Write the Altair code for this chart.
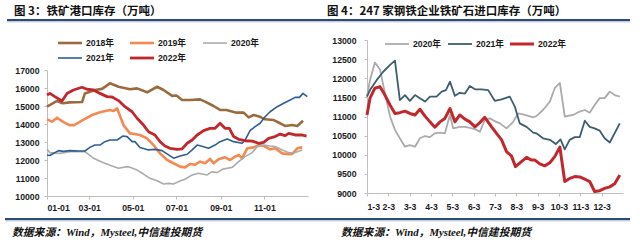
import altair as alt
import pandas as pd

# ---------------- data: left panel (港口库存, 万吨), x = day of year ----------------
L_SERIES = ["2018年", "2019年", "2020年", "2021年", "2022年"]

l18_day = [0, 14, 22, 32, 49, 53, 67, 77, 88, 100, 116, 126, 140, 154, 163, 175, 181, 189, 200, 214,
           221, 233, 242, 251, 265, 275, 282, 289, 298, 305, 317, 326, 333, 343, 350, 358]
l18_val = [14960, 15280, 15150, 15200, 15220, 15700, 15890, 15950, 16260, 16070, 15930, 15980, 15760, 16070, 15890, 15560, 15580, 15330, 15330, 15370,
           15240, 15000, 14780, 14780, 14630, 14630, 14370, 14500, 14400, 14260, 14220, 14040, 13890, 13940, 13890, 14180]

l19_day = [0, 7, 14, 22, 31, 38, 50, 63, 74, 88, 93, 98, 107, 116, 123, 130, 140, 149, 158, 168,
           177, 186, 193, 200, 207, 214, 221, 228, 233, 240, 249, 256, 263, 268, 273, 280, 289, 296, 303, 312,
           319, 329, 338, 343, 350, 357]
l19_val = [14260, 14130, 14350, 14130, 13940, 13940, 14220, 14500, 14650, 14780, 14720, 14870, 13940, 13480, 13440, 13390, 13200, 12830, 12370, 12000,
           11820, 11630, 11590, 11780, 11740, 11910, 11820, 12060, 11820, 12040, 12150, 12000, 12190, 12280, 12100, 12650, 12700, 12830, 12780, 12590,
           12650, 12370, 12320, 12340, 12650, 12700]

l20_day = [0, 4, 18, 32, 46, 53, 65, 79, 91, 100, 112, 116, 126, 135, 144, 154, 163, 170, 177, 184,
           193, 203, 212, 224, 231, 238, 245, 252, 259, 268, 277, 287, 294, 303, 312, 319, 329, 338, 345, 357]
l20_val = [12590, 12410, 12370, 12460, 12460, 12460, 12100, 11850, 11670, 11540, 11630, 11600, 11440, 11220, 10980, 10850, 10670, 10700, 10670, 10800,
           10930, 11170, 11260, 11170, 11350, 11300, 11480, 11540, 11590, 11910, 12190, 12410, 12740, 12830, 12780, 12750, 12560, 12410, 12390, 12560]

l21_day = [0, 4, 16, 23, 32, 46, 53, 60, 67, 74, 81, 88, 98, 106, 112, 119, 123, 130, 142, 151,
           161, 170, 177, 186, 196, 203, 210, 219, 226, 235, 242, 252, 261, 273, 277, 284, 291, 298, 305, 312,
           322, 331, 340, 347, 353, 358, 364]
l21_val = [12280, 12250, 12520, 12480, 12520, 12500, 12500, 12700, 12830, 12830, 13020, 13110, 13110, 13330, 13300, 13020, 13020, 12700, 12560, 12590,
           12520, 12280, 12100, 12220, 12320, 12560, 12830, 12740, 12650, 12830, 13020, 13170, 13020, 12930, 13110, 13630, 13850, 14040, 14400, 14680,
           14960, 15150, 15330, 15480, 15480, 15700, 15520]

l22_day = [0, 4, 11, 21, 28, 37, 49, 56, 65, 74, 84, 91, 100, 109, 119, 126, 135, 142, 151, 158,
           165, 172, 182, 189, 196, 203, 210, 219, 228, 235, 242, 249, 255, 261, 268, 277, 287, 296, 303, 310,
           319, 326, 333, 338, 347, 356, 363]
l22_val = [15610, 15700, 15520, 15280, 15700, 15890, 16040, 15930, 15890, 15700, 15520, 15500, 15300, 14960, 14680, 14320, 13940, 13570, 13390, 13020,
           12780, 12650, 12590, 12620, 12930, 13110, 13390, 13630, 13760, 13760, 14040, 13760, 13760, 13300, 13150, 13070, 13050, 12930, 12980, 13200,
           13300, 13440, 13350, 13480, 13390, 13390, 13330]

L_TICK_DAYS = [0, 59, 120, 181, 243, 304]          # 01-01, 03-01, ... 11-01
L_Y_TICKS = [10000, 11000, 12000, 13000, 14000, 15000, 16000, 17000]

# ---------------- data: right panel (247家钢厂进口矿库存), x = month index (0 = 1-3) ----------------
R_SERIES = ["2020年", "2021年", "2022年"]

r20_m = [0, 0.14, 0.37, 0.61, 0.84, 1.08, 1.31, 1.54, 1.78, 2.01, 2.25, 2.48, 2.72, 2.95, 3.18, 3.42, 3.65, 3.89, 4.04, 4.35,
         4.59, 4.82, 5.06, 5.29, 5.52, 5.76, 5.99, 6.23, 6.54, 6.85, 7.08, 7.40, 7.79, 7.94, 8.25, 8.57, 8.80, 9.04, 9.27, 9.66,
         9.97, 10.21, 10.44, 10.67, 10.91, 11.14, 11.38, 11.61, 11.85]
r20_val = [11520, 11950, 12410, 12230, 11610, 11000, 10650, 10430, 10210, 10250, 10210, 10430, 10490, 10460, 10560, 10580, 10560, 11040, 10690, 10730,
           10730, 10700, 10670, 10600, 10910, 10950, 10880, 10820, 10690, 10860, 11080, 11040, 10980, 11010, 11170, 11390, 11740, 11880, 11000, 11040,
           11130, 11170, 11100, 11300, 11480, 11480, 11650, 11560, 11520]

r21_m = [0, 0.14, 0.45, 0.76, 1.08, 1.31, 1.54, 1.78, 2.01, 2.25, 2.48, 2.72, 2.95, 3.26, 3.50, 3.70, 3.89, 4.12, 4.35, 4.59,
         4.82, 5.06, 5.37, 5.68, 5.99, 6.31, 6.69, 6.93, 7.16, 7.48, 7.79, 7.94, 8.25, 8.57, 8.85, 9.07, 9.27, 9.50, 9.74, 9.97,
         10.21, 10.44, 10.67, 10.91, 11.14, 11.38, 11.85]
r21_val = [11520, 11690, 11950, 12170, 12350, 12460, 11430, 11560, 11410, 11560, 11480, 11390, 11520, 11520, 11650, 11690, 11910, 11540, 11620, 11600,
           11800, 11710, 11710, 11690, 11410, 11450, 11520, 11260, 10820, 10730, 10580, 10560, 10430, 10390, 10280, 10400, 10140, 10390, 10460, 10460,
           10890, 10730, 10690, 10630, 10430, 10320, 10820]

r22_m = [0, 0.14, 0.37, 0.61, 0.84, 1.08, 1.31, 1.54, 1.78, 2.01, 2.25, 2.48, 2.72, 2.95, 3.18, 3.42, 3.65, 3.89, 4.12, 4.35,
         4.59, 4.82, 5.06, 5.29, 5.52, 5.84, 6.07, 6.31, 6.54, 6.77, 6.96, 7.24, 7.48, 7.71, 7.87, 8.10, 8.33, 8.57, 8.80, 9.04,
         9.27, 9.50, 9.74, 9.97, 10.21, 10.44, 10.67, 10.91, 11.14, 11.38, 11.61, 11.85]
r22_val = [11040, 11480, 11740, 11780, 11560, 11300, 11080, 11100, 11140, 11080, 11040, 11190, 11010, 10860, 10720, 10860, 10950, 11210, 10860, 11040,
           10930, 10860, 10730, 10840, 10980, 10730, 10560, 10390, 10080, 9970, 9690, 9820, 9930, 9860, 9860, 9760, 9710, 9790, 9950, 10200,
           9300, 9380, 9430, 9420, 9360, 9300, 9040, 9060, 9120, 9160, 9240, 9470]

R_TICK_M = list(range(12))                         # 1-3 ... 12-3
R_Y_TICKS = [9000, 9500, 10000, 10500, 11000, 11500, 12000, 12500, 13000]

TITLE_L = "图 3：铁矿港口库存（万吨）"
TITLE_R = "图 4：247 家钢铁企业铁矿石进口库存（万吨）"
SOURCE = "数据来源：Wind，Mysteel,中信建投期货"

# ---------------- styles / layout ----------------
L_COLORS = ["#9A6B3F", "#F28A52", "#ABABAB", "#2F5F90", "#C1272D"]
L_WIDTHS = [2.6, 2.6, 1.6, 1.6, 2.8]
R_COLORS = ["#ABABAB", "#3D5E70", "#C1272D"]
R_WIDTHS = [1.8, 1.8, 3.0]
NUM_FONT = "Liberation Sans, Arial, Noto Sans CJK SC, sans-serif"
CJK_FONT = "Noto Sans CJK SC, sans-serif"
SRC_FONT = "Liberation Serif, Noto Sans CJK SC, serif"
NAVY = "#2B4B78"

left_df = pd.concat([
    pd.DataFrame({"day": d, "value": v, "series": s})
    for d, v, s in zip([l18_day, l19_day, l20_day, l21_day, l22_day],
                       [l18_val, l19_val, l20_val, l21_val, l22_val], L_SERIES)
], ignore_index=True)
right_df = pd.concat([
    pd.DataFrame({"m": d, "value": v, "series": s})
    for d, v, s in zip([r20_m, r21_m, r22_m], [r20_val, r21_val, r22_val], R_SERIES)
], ignore_index=True)

axis_style = dict(domainColor="#BFBFBF", domainWidth=1, tickColor="#BFBFBF", tickSize=3,
                  labelFont=NUM_FONT, labelFontSize=8.7, labelFontWeight="bold", labelColor="#1A1A1A",
                  grid=False, title=None)

left_lines = alt.Chart(left_df).mark_line(strokeJoin="round").encode(
    x=alt.X("day:Q",
            scale=alt.Scale(domain=[0, 365], range=[47, 308], nice=False, zero=False),
            axis=alt.Axis(orient="bottom", offset=-51, values=L_TICK_DAYS, labelPadding=4,
                          labelExpr="timeFormat(datetime(2022, 0, 1 + datum.value), '%m-%d')",
                          **axis_style)),
    y=alt.Y("value:Q",
            scale=alt.Scale(domain=[10000, 17000], range=[196, 70], nice=False, zero=False),
            axis=alt.Axis(orient="left", offset=-47, values=L_Y_TICKS, format="d", labelPadding=5,
                          **axis_style)),
    color=alt.Color("series:N", scale=alt.Scale(domain=L_SERIES, range=L_COLORS), legend=None),
    strokeWidth=alt.StrokeWidth("series:N",
                                scale=alt.Scale(type="ordinal", domain=L_SERIES, range=L_WIDTHS),
                                legend=None),
)

right_lines = alt.Chart(right_df).mark_line(strokeJoin="round").encode(
    x=alt.X("m:Q",
            scale=alt.Scale(domain=[0, 12], range=[367, 623], nice=False, zero=False),
            axis=alt.Axis(orient="bottom", offset=-54, values=R_TICK_M, labelPadding=6,
                          labelExpr="(datum.value + 1) + '-3'", **axis_style)),
    y=alt.Y("value:Q",
            scale=alt.Scale(domain=[9000, 13000], range=[193, 40], nice=False, zero=False),
            axis=alt.Axis(orient="left", offset=-367, values=R_Y_TICKS, format="d", labelPadding=8,
                          **axis_style)),
    color=alt.Color("series:N", scale=alt.Scale(domain=R_SERIES, range=R_COLORS), legend=None),
    strokeWidth=alt.StrokeWidth("series:N",
                                scale=alt.Scale(type="ordinal", domain=R_SERIES, range=R_WIDTHS),
                                legend=None),
)

# ---------------- legends (drawn by hand) ----------------
L_LEG_POS = [(58, 43), (130, 43), (203, 43), (58, 58), (130, 58)]
R_LEG_POS = [(385, 44), (448, 44), (510, 44)]


def legend_layers(series, colors, widths, positions):
    out = []
    for s, c, w, (px, py) in zip(series, colors, widths, positions):
        one = alt.Chart(pd.DataFrame({"series": [s]}))
        out.append(one.mark_rule(color=c, strokeWidth=w).encode(
            x=alt.value(px), x2=alt.value(px + 24), y=alt.value(py)))
        out.append(one.mark_text(align="left", baseline="middle", font=NUM_FONT, fontSize=8.7,
                                 fontWeight="bold", color="#1A1A1A").encode(
            x=alt.value(px + 28), y=alt.value(py), text="series:N"))
    return out


def text_layer(txt, px, py, **kw):
    return alt.Chart(pd.DataFrame({"t": [txt]})).mark_text(align="left", baseline="middle", **kw).encode(
        x=alt.value(px), y=alt.value(py), text="t:N")


def hrule(x1, x2, y, color, width):
    return alt.Chart(pd.DataFrame({"k": [0]})).mark_rule(color=color, strokeWidth=width).encode(
        x=alt.value(x1), x2=alt.value(x2), y=alt.value(y))


deco = [
    text_layer(TITLE_L, 14, 12, font=CJK_FONT, fontSize=11.5, fontWeight="bold", color="#111111"),
    text_layer(TITLE_R, 327, 12, font=CJK_FONT, fontSize=11.5, fontWeight="bold", color="#111111"),
    hrule(7, 630, 20, NAVY, 2),
    hrule(7, 630, 21.8, "#A9B7CC", 1),
    hrule(5, 630, 219, NAVY, 2),
    hrule(5, 630, 220.8, "#A9B7CC", 1),
    text_layer(SOURCE, 12, 233, font=SRC_FONT, fontSize=10.8, fontWeight="bold", fontStyle="italic",
               color="#111111"),
    text_layer(SOURCE, 341, 233, font=SRC_FONT, fontSize=10.8, fontWeight="bold", fontStyle="italic",
               color="#111111"),
]

chart = alt.layer(
    left_lines, right_lines,
    *legend_layers(L_SERIES, L_COLORS, L_WIDTHS, L_LEG_POS),
    *legend_layers(R_SERIES, R_COLORS, R_WIDTHS, R_LEG_POS),
    *deco,
).resolve_scale(
    x="independent", y="independent", color="independent", strokeWidth="independent"
).resolve_axis(
    x="independent", y="independent"
).properties(
    width=640, height=247, padding=0,
    autosize=alt.AutoSizeParams(type="none"),
    background="white",
).configure_view(stroke=None)

chart.save("out.html", embed_options={"renderer": "svg", "actions": False})
